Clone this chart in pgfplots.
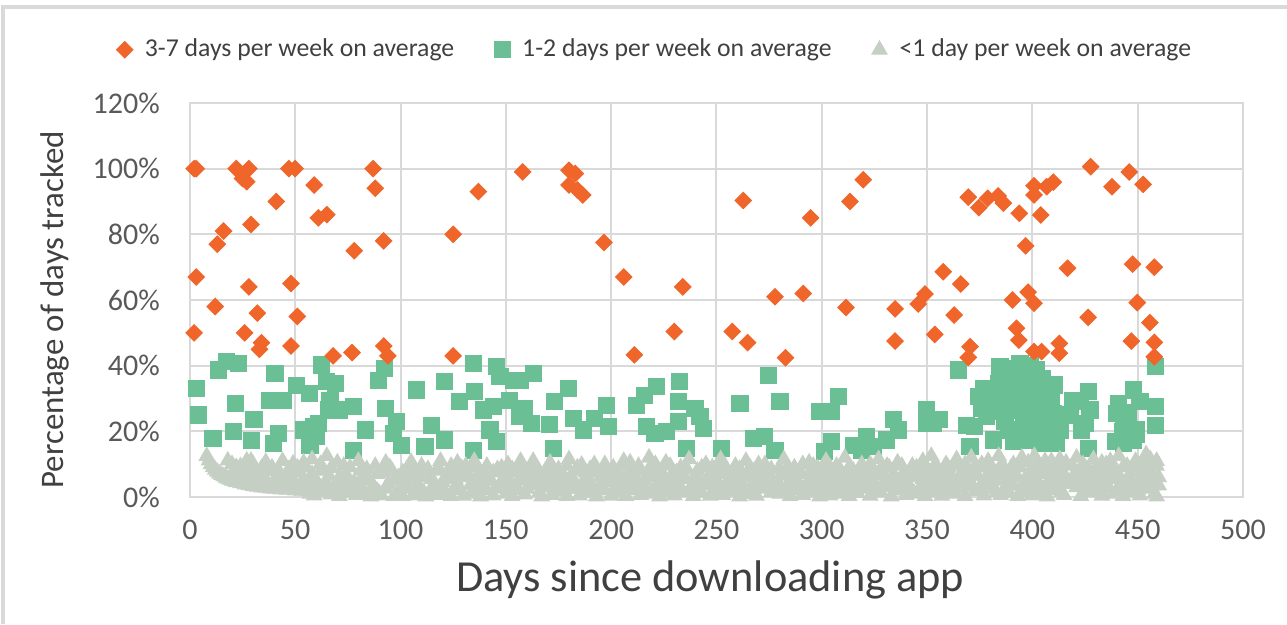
\documentclass[border=0pt]{standalone}
\usepackage{fontspec}
\setmainfont{Carlito}
\usepackage{pgfplots}
\pgfplotsset{compat=1.18}
\definecolor{corange}{HTML}{F0652A}
\definecolor{cgreen}{HTML}{6BBF94}
\definecolor{cgray}{HTML}{C5CFC4}
\definecolor{gridc}{HTML}{D9D9D9}
\definecolor{tickc}{HTML}{595959}
\definecolor{labc}{HTML}{404040}
\begin{document}
\begin{tikzpicture}
\begin{axis}[
  scale only axis, width=368.2pt, height=137.8pt,
  xmin=0, xmax=500, ymin=0, ymax=120,
  xtick={0,50,...,500}, ytick={0,20,...,120},
  yticklabel={\pgfmathprintnumber{\tick}\%},
  /pgf/number format/assume math mode=true,
  major tick length=0pt,
  grid=major, grid style={color=gridc, line width=0.7pt},
  axis line style={color=gridc, line width=0.7pt},
  tick label style={font=\fontsize{10.5}{12}\selectfont, text=tickc},
  xticklabel style={yshift=-4.5pt},
  yticklabel style={xshift=-7pt},
  xlabel={Days since downloading app},
  ylabel={Percentage of days tracked},
  xlabel style={font=\fontsize{15.5}{18}\selectfont, text=labc, at={(axis description cs:0.494,-0.21)}, anchor=center},
  ylabel style={font=\fontsize{11.5}{13}\selectfont, text=labc, at={(axis description cs:-0.128,0.475)}, anchor=center},
  legend style={draw=none, fill=none, at={(0.443,1.135)}, anchor=center, legend columns=3,
    font=\fontsize{9}{11}\selectfont, text=labc,
    /tikz/every even column/.append style={column sep=11.7pt}},
  legend image code/.code={\path (0cm,0cm) (0.27cm,0cm); \draw[#1] plot coordinates {(0.1cm,0cm)};},
  clip=false,
]
\addlegendimage{only marks, mark=square*, mark size=2pt, color=corange, every mark/.append style={rotate=45}}
\addlegendentry{3-7 days per week on average}
\addlegendimage{only marks, mark=square*, mark size=2.8pt, color=cgreen}
\addlegendentry{1-2 days per week on average}
\addlegendimage{only marks, mark=triangle*, mark size=3pt, color=cgray}
\addlegendentry{<1 day per week on average}
% green
\addplot[forget plot, only marks, mark=square*, mark size=2.8pt, color=cgreen] coordinates {
(3,33.1)(4,25)(13.4,38.7)(17.4,41.2)(23,40.7)(11,17.9)(20.5,19.9)(21.7,28.5)(30.4,23.5)(29.3,17.2)(40.4,37.7)(38,29.5)(44.3,29.5)(42,19.4)(39.6,16.3)(50.7,34)(56.9,31.6)(53.8,20.4)(58.6,21.4)(57,15.8)(62.5,40.2)(65,35.1)(69,34.6)(66.5,29.5)(65.7,26.5)(71.2,26.5)(77.5,27.5)(61,22.4)(60,18.4)(77.5,14.3)(83.4,20.4)(89.4,35.6)(92.3,39.2)(92.9,27)(98.1,22.9)(96.5,19.4)(100.5,15.8)(107.6,32.6)(114.7,21.9)(111.6,15.3)(121,35.1)(121,17.4)(128.2,29)(134.5,40.7)(135.3,32.1)(134.5,14.3)(139.3,26.5)(145.6,39.7)(147.2,36.6)(153.5,35.6)(144,27.5)(142.5,20.4)(145.6,16.8)(151.9,29.5)(156.7,24.5)
(163,37.7)(156.7,35.6)(159,27)(162.2,22.4)(170.6,22.2)(173.3,29)(179.6,33.1)(182,24)(186.8,20.4)(172.5,14.8)(192.3,24)(197.9,28)(198.7,21.4)(212,28)(216,31)(221.6,33.6)(216.8,21.4)(220.8,19.4)(226.4,19.9)(231.8,22.9)(231.8,29)(232.6,35.1)(239.8,27)(242.2,24.5)(243.8,20.9)(235.8,14.8)(252.4,14.8)(261.2,28.5)(267.5,17.9)(273,18.4)(277.8,14.3)(274.6,36.9)(280.2,29)(299.1,26)(304.7,26)(307.8,30.6)(304.7,16.8)(301.5,13.8)(314.9,15.8)(321.2,15.8)
(321.3,18.4)(324.5,15.3)(330.8,17.4)(334,23.5)(336.4,20.4)(318.9,14.3)(349.8,26.5)(352.9,22.4)(349.8,22.4)(356,23.5)(364.8,38.7)(374.3,30.6)(372.7,21.4)(368.8,21.9)(370.4,15.3)(378.3,24.5)(381.4,17.4)(384.6,39.7)(383.8,34.6)(386.2,30.6)(389.4,26.5)(388.6,20.4)(391,16.8)(394.1,40.7)(392.5,35.6)(397.3,37.7)(395.7,28.5)(395.7,24.5)(393.3,20.4)(398,17.4)(402,38.7)(401.3,33.6)(400.5,28.5)(403.6,25.5)(401.3,20.4)(406.8,20.4)(404.4,16.4)(410.7,34.1)(410,25.5)(413.2,20.4)(411.6,16.4)(408.4,23.5)
(380,28)(382,31)(385,26)(387,23)(390,33)(392,29)(396,32)(399,22)(403,31)(405,36)(398,26)(407,29)(409,30)(406,24)(396,37)(388,37)(391,39)(399,40)(419,29.5)(418,25)(377,33)(376,27)
(426.5,32.1)(422.6,29)(427.4,26.5)(425,22.4)(423.4,20.4)(426.5,14.8)(447.9,32.6)(440.8,28.5)(440,25.5)(443.1,24.5)(451.1,29)(458.3,27.5)(458.3,21.9)(449.6,20.4)(439.3,16.8)(443.1,16.4)(447.9,17.4)(458.3,39.7)(445.5,25.6)(443,20)(449.6,19)
};
% gray
\addplot[forget plot, only marks, mark=triangle*, mark size=3pt, color=cgray] coordinates {
(8,12.5)(9,11.1)(10,10)(11,9.1)(12,8.3)(13,7.7)(14,7.1)(15,6.7)(16,6.3)(17,5.9)(18,5.6)(19,5.3)(20,5)(21,4.8)(22,4.5)(24,4.2)(26,3.8)(28,3.6)(30,3.3)(32,3.1)(34,2.9)(36,2.8)(38,2.6)(40,2.5)(43,2.3)(46,2.2)(50,2)(53,1.9)(56,1.8)(60,1.7)(64,1.6)(68,1.5)(72,1.4)(77,1.3)(83,1.2)(90,1.1)(100,1)
(18,11.1)(20,10)(22,9.1)(25,8)(28,7.1)(31,6.5)(35,5.7)(40,5)(45,4.4)(50,4)(55,3.6)(60,3.3)(66,3)(72,2.8)
(27,11.1)(30,10)(34,8.8)(38,7.9)(43,7)(48,6.3)(54,5.6)(60,5)(70,4.3)(80,3.8)
(24,9.4)(29,11)(36,10.7)(44,11)(49,10.2)(58,11.5)(65,12.5)(70,10.5)(80,11)(93,10.5)(105,10.7)(119,11)(127,10.5)(135,11)
(42,8)(47,8.5)(52,7.5)(55,9)(57,1)(59,0.5)(62,8)(63,2.5)(66,6.5)(67,0.8)(71,0.3)(74,7)(75,5)(76,9)(79,0.6)(82,6)(84,8.5)(86,0.2)(87,3.5)(89,7)(91,0.5)(94,4)(96,8)(97,0.3)(99,6)
(101,0.3)(102,5.5)(103,8.5)(104,2.5)(106,0.5)(107,7)(108,4)(110,9.5)(111,1.5)(112,0.2)(114,6)(115,3)(117,8)(118,0.6)(120,4.5)(121,1.8)(123,7.5)(124,0.3)(126,5.5)(128,2.5)(129,8.8)(130,0.4)(132,6.5)(133,3.5)(134,1)(136,9)(137,4.8)(138,0.2)(140,7)(141,2)(143,5)(144,0.5)(146,8.5)(147,3)(149,6)(150,1)
(151,10)(152,4)(153,0.3)(155,7.5)(156,2.2)(157,11)(158,5.5)(159,0.8)(161,8)(162,3.5)(164,9.5)(165,5)(166,1.5)(167,0.2)(169,7)(170,3)(171,10.5)(172,0.6)(174,5.5)(175,8.5)(176,1.8)(178,4)(179,0.3)(180,11.5)(181,6.5)(183,2.5)(184,9)(185,0.5)(187,5)(188,7.5)(189,1.2)(191,3.5)(192,10)(193,0.2)(195,6)(196,8.5)(197,2)(199,4.5)(200,0.4)
(201,9)(202,6.5)(203,1.5)(205,3.5)(206,11)(207,0.3)(209,7.5)(210,5)(211,2)(213,9.5)(214,0.6)(215,4)(217,6.8)(218,12)(219,1)(221,3)(222,8)(223,0.2)(225,5.5)(226,10.5)(227,2.5)(229,7)(230,0.5)(231,4)(233,9)(234,1.8)(235,6)(237,11.5)(238,3.2)(239,0.3)(241,8)(242,5)(243,1.3)(245,10)(246,3.8)(247,0.4)(249,6.5)(250,2)
(251,8.5)(252,11.5)(253,0.6)(255,4.5)(256,7)(257,1.6)(259,9.5)(260,3)(261,0.2)(263,6)(264,11)(265,1)(267,4)(268,8)(269,0.4)(271,2.5)(272,6.5)(273,10)(275,3.5)(276,8.5)(277,5)(280,1)(281,7)(282,11.5)(283,3)(285,0.3)(286,5.5)(287,9)(289,2)(290,7.5)(291,0.6)(293,4)(294,10.5)(295,1.5)(297,6)(298,8.8)(299,0.2)
(301,3.5)(302,11)(303,7)(304,0.5)(306,5)(307,9.5)(308,1.8)(310,3)(311,12)(312,6.5)(313,0.3)(315,8)(316,4.5)(317,1.2)(319,10)(320,2.5)(321,6)(323,0.4)(324,8.8)(325,4)(327,11.5)(328,1.5)(329,6.8)(331,3)(332,9)(333,0.2)(335,5.5)(336,10.5)(337,2)(339,7.5)(340,0.6)(341,4)(343,9.5)(344,1)(345,6)(347,3.2)(348,11)(349,0.3)(350,7)
(351,4.5)(352,12.5)(353,1.5)(355,8.5)(356,5.5)(357,0.4)(359,10)(360,3)(361,7)(363,1)(364,11.5)(365,5)(367,8)(368,0.3)(369,3.5)(371,12)(372,6.5)(373,1.8)(375,9)(376,4)(377,0.5)(379,11)(380,7)(381,2.5)(383,5)(384,12.5)(385,0.6)(387,8.5)(388,3.5)(389,1.2)(391,10)(392,6)(393,0.3)(395,12)(396,4.5)(397,2)(399,8)(400,0.5)
(401,12.5)(402,5.5)(403,1.5)(405,9.5)(406,3)(407,0.2)(409,11)(410,6.5)(411,2.5)(413,8)(414,4)(415,0.6)(416,10.5)(420,7)(421,12)(422,3.5)(423,0.3)(425,9)(426,5)(427,1.5)(429,11.5)(430,2)(431,7)(433,0.4)(434,4.5)(435,10)(437,8)(438,1)(439,5.5)(441,12.5)(442,3)(443,0.3)(445,9.5)(446,6)(447,1.8)(449,11)(450,4)(451,0.5)(453,8.5)(454,13)(455,2.5)(457,6.5)(458,1)(459,9.5)(460,3.5)(459,0.2)
(21,7.5)(23,6.5)(26,6)(27,8.5)(31,8.5)(33,4.5)(37,4.2)(39,9)(41,3.8)(44,5.5)(47,3.2)(51,9)(53,3)(54,10.5)(56,4.5)(58,7)(61,2.8)(62,10)(64,4)(67,8.8)(69,2.3)(71,6)(73,9.5)(76,2.5)(78,4.5)(81,8)(82,2.2)(85,5)(88,9.5)(89,1.8)(92,7.5)(93,2.5)(95,9)(97,5)(99,2)
(101,7.5)(103,3.8)(105,6)(106,9)(109,2.8)(110,6)(113,8.5)(115,5.5)(116,1)(118,9)(119,3.5)(122,6)(124,9.5)(125,2)(127,4)(129,6.5)(131,9.5)(133,6)(135,2.5)(137,7)(139,3.5)(141,9.5)(142,5)(144,7.5)(145,2.5)(148,9)(149,4)
(151,6)(153,8.5)(154,2)(156,5)(158,9)(160,2.5)(162,6.5)(163,11)(166,7.5)(168,4.5)(170,9)(172,6)(173,2.5)(175,4)(177,7)(179,9.5)(180,2.5)(182,5)(183,8)(186,9.8)(186,3)(189,6)(190,8.5)(192,2)(194,7.5)(195,3.5)(197,10)(198,6.5)
(200,5)(202,3)(203,7.5)(205,9.5)(206,5.5)(208,2.5)(209,10.5)(211,6.5)(212,3.5)(214,8)(216,1.5)(216,5)(218,8.5)(220,6)(221,10)(223,4)(224,7.5)(226,1.5)(228,4.5)(228,9.5)(231,7.5)(232,2.5)(234,5.5)(236,8.5)(237,1.5)(240,3)(240,6.5)(243,9)(244,3.5)(246,6)(248,9)(249,1.5)
(250,5)(252,7)(254,3)(254,9.5)(256,5.5)(258,2.5)(259,6.5)(261,8.5)(262,4)(263,1)(265,6)(266,9)(267,2)(269,5.5)(270,10)(271,7.5)(273,3.5)(274,6)(276,1.5)(279,4)(280,9)(281,2.5)(283,6.5)(284,9)(286,2)(288,7)(289,4.5)(291,10)(292,3)(294,7)(295,4.5)(296,9.5)(298,3)(299,6)
(300,8)(301,1.5)(303,4.5)(304,9)(305,2.5)(307,6)(309,8)(309,1)(311,4.5)(313,9)(314,6)(315,2)(317,7)(318,4)(320,8.5)(322,3)(323,10)(325,6.5)(326,1.5)(328,8.5)(330,5)(331,9.5)(333,4)(334,7)(336,2)(338,5)(338,9.5)(340,7)(342,2)(343,6)(345,9)(346,1.5)(348,5.5)(349,8.5)
(350,2.5)(352,7.5)(353,4)(354,10)(356,2)(357,7.5)(358,4)(360,9)(361,1.5)(362,5)(363,9.5)(365,2.5)(366,7)(368,10)(369,5.5)(370,8)(372,3)(373,9.5)(374,6.5)(376,10)(377,2.5)(378,6)(380,4)(380,9.5)(382,7)(383,1.5)(385,9.5)(386,5.5)(387,2.5)(389,6.5)(390,9)(391,3.5)(393,6)(394,9)(395,1.5)(397,6)(398,10.5)(399,3.5)
(400,6.5)(402,9.5)(403,4)(404,7)(405,1.2)(406,11)(408,4.5)(408,8)(410,2)(411,9)(412,5)(413,11.5)(414,1.5)(415,7)(416,4)(417,4)(419,5.5)(419,9.5)(421,3)(422,7.5)(424,10)(424,5)(426,2.5)(427,8)(428,4)(430,9)(430,5.5)(432,2.5)(433,10.5)(434,7)(436,3)(436,6)(437,11)(439,9)(440,2)(441,6.5)(443,9)(444,4.5)(445,1.5)(447,7.5)(448,4)(449,8.5)(450,2)(452,6)(452,10.5)(454,4)(455,8)(456,11.5)(457,3.5)(458,6)(459,11)(460,6)
};
% orange
\addplot[forget plot, only marks, mark=square*, mark size=2pt, color=corange, every mark/.append style={rotate=45}] coordinates {
(2,100)(3,100)(22,100)(28,100)(47,100)(50,100)(87,100)(25,97)(27,96)(59,95)(88,94)(41,90)(61,85)(65,86)(16,81)(29,83)(13,77)(78,75)(92,78)(125,80)(137,93)(158,99)(3,67)(28,64)(48,65)(12,58)(32,56)(51,55)(2,50)(26,50)(34,47)(33,45)(48,46)(92,46)(94,43)(68,43)(77,44)(125,43)
(180,99.5)(183,98.5)(180,95)(184,93.5)(186.5,92)(196.6,77.5)(206,67)(234,64)(262.7,90.3)(294.7,85)(313.4,90)(319.7,96.6)(211,43.3)(230,50.4)(257.5,50.4)(264.8,47)(277.8,61)(291.2,62)(311.5,57.7)(282.8,42.4)
(427.7,100.6)(446,99)(437.8,94.5)(452.6,95.2)(369.6,91.3)(374.6,88.1)(378.8,91)(383.8,91.7)(386.2,89.5)(393.8,86.4)(400.8,94.8)(400.8,92)(406.8,94.5)(410,95.9)(404,85.9)(396.8,76.5)(416.7,69.7)(447.6,70.9)(457.9,70)(357.7,68.6)(366,64.9)(349,61.8)(345.8,58.8)(334.8,57.3)(362.9,55.4)(390.6,60)(398,62.4)(400.8,59)(426.5,54.7)(449.8,59.2)(455.8,53.1)(334.8,47.5)(353.7,49.5)(392.5,51.4)(393.6,47.8)(370.4,45.8)(369.6,42.5)(400.8,44.3)(404.4,44.3)(412.8,46.8)(412.8,43.8)(447,47.5)(457.9,47.1)(457.9,42.7)
};
\end{axis}
\path[use as bounding box] ([xshift=-66.4pt,yshift=-44.4pt]current axis.south west) rectangle ([xshift=15.4pt,yshift=36pt]current axis.north east);
\draw[gridc, line width=1.2pt] ([xshift=-65.4pt,yshift=-44.4pt]current axis.south west) -- ([xshift=-65.4pt,yshift=33.5pt]current axis.north west) -- ([xshift=15.4pt,yshift=33.5pt]current axis.north east);
\end{tikzpicture}
\end{document}
